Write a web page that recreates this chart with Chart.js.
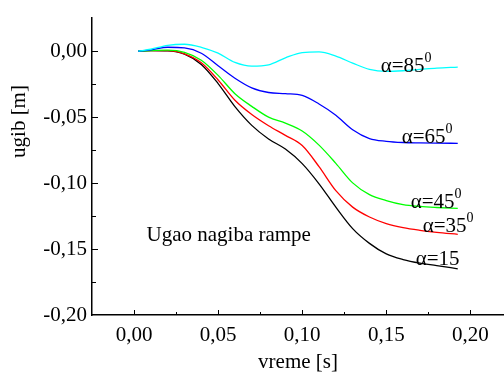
<!DOCTYPE html>
<html>
<head>
<meta charset="utf-8">
<script src="https://cdn.jsdelivr.net/npm/chart.js@4.4.1/dist/chart.umd.min.js"></script>
<style>
  body { margin: 0; background: #fff; }
  canvas { display: block; }
</style>
</head>
<body>
<canvas id="chart" width="504" height="373"></canvas>
<script>
// vreme [s]
const time = [0.0025, 0.01, 0.02, 0.03, 0.04, 0.05, 0.06, 0.07, 0.08, 0.09,
              0.10, 0.11, 0.12, 0.13, 0.14, 0.15, 0.16, 0.17, 0.18, 0.1925];

// ugib [m], one array per ramp angle
const ugib85 = [0, 0.0015, 0.0045, 0.0053, 0.0030, -0.0015, -0.0085, -0.0113, -0.0103, -0.0050,
                -0.0010, -0.0005, -0.0037, -0.0090, -0.0138, -0.0153, -0.0148, -0.0138, -0.0128, -0.0120];
const ugib65 = [0, 0.0010, 0.0030, 0.0025, -0.0015, -0.0110, -0.0205, -0.0278, -0.0313, -0.0322,
                -0.0335, -0.0400, -0.0485, -0.0595, -0.0662, -0.0683, -0.0692, -0.0695, -0.0697, -0.0698];
const ugib45 = [0, 0.0005, 0.0008, -0.0008, -0.0068, -0.0183, -0.0322, -0.0418, -0.0500, -0.0545,
                -0.0605, -0.0712, -0.0850, -0.0998, -0.1087, -0.1132, -0.1163, -0.1177, -0.1185, -0.1192];
const ugib35 = [0, 0.0005, 0.0005, -0.0020, -0.0088, -0.0218, -0.0372, -0.0480, -0.0565, -0.0638,
                -0.0715, -0.0875, -0.1057, -0.1182, -0.1257, -0.1307, -0.1338, -0.1358, -0.1373, -0.1388];
const ugib15 = [0, 0.0005, 0.0003, -0.0022, -0.0100, -0.0245, -0.0420, -0.0562, -0.0665, -0.0742,
                -0.0852, -0.1005, -0.1182, -0.1345, -0.1457, -0.1537, -0.1580, -0.1607, -0.1625, -0.1650];

const xTicks = [0, 0.05, 0.10, 0.15, 0.20];
const yTicks = [-0.20, -0.15, -0.10, -0.05, 0];

const serif = '"Liberation Serif", "Times New Roman", serif';
Chart.defaults.color = '#000';
Chart.defaults.font.family = serif;
Chart.defaults.font.size = 21;

function series(values, color) {
  return {
    data: time.map((t, i) => ({ x: t, y: values[i] })),
    borderColor: color,
    borderWidth: 1.3,
    pointRadius: 0,
    fill: false,
    cubicInterpolationMode: 'monotone'
  };
}

const comma = v => v.toFixed(2).replace('.', ',');

// inward ticks, curve labels and the y title
const extras = {
  id: 'extras',
  afterDraw(chart) {
    const { ctx, scales: { x, y } } = chart;
    ctx.save();
    ctx.strokeStyle = '#000';
    ctx.lineWidth = 1;
    ctx.beginPath();
    for (let k = 0; k <= 8; k++) {
      const px = Math.round(x.getPixelForValue(k * 0.025)) + 0.5;
      const len = k % 2 === 0 ? 5 : 3;
      ctx.moveTo(px, x.top);
      ctx.lineTo(px, x.top - len);
    }
    for (let k = 0; k < 8; k++) {
      const py = Math.round(y.getPixelForValue(-k * 0.025)) + 0.5;
      const len = k % 2 === 0 ? 6 : 4;
      ctx.moveTo(y.right, py);
      ctx.lineTo(y.right + len, py);
    }
    ctx.stroke();

    ctx.fillStyle = '#000';
    ctx.textBaseline = 'alphabetic';
    const put = (text, sup, tx, ty) => {
      const px = x.getPixelForValue(tx), py = y.getPixelForValue(ty);
      ctx.font = '21px ' + serif;
      ctx.fillText(text, px, py);
      if (sup) {
        const w = ctx.measureText(text).width;
        ctx.font = '14px ' + serif;
        ctx.fillText(sup, px + w, py - 10);
      }
    };
    put('α=85', '0', 0.1467, -0.0158);
    put('α=65', '0', 0.1592, -0.0695);
    put('α=45', '0', 0.1645, -0.1188);
    put('α=35', '0', 0.1717, -0.1372);
    put('α=15', '', 0.1675, -0.1624);
    put('Ugao nagiba rampe', '', 0.0074, -0.1441);

    ctx.font = '21px ' + serif;
    ctx.textAlign = 'center';
    ctx.translate(25, 121.5);
    ctx.rotate(-Math.PI / 2);
    ctx.fillText('ugib [m]', 0, 0);
    ctx.restore();
  }
};

new Chart(document.getElementById('chart'), {
  type: 'line',
  data: {
    datasets: [
      series(ugib85, '#00ffff'),
      series(ugib65, '#0000ff'),
      series(ugib45, '#00ff00'),
      series(ugib35, '#ff0000'),
      series(ugib15, '#000000')
    ]
  },
  options: {
    responsive: false,
    animation: false,
    layout: { padding: { top: 15, right: 0, left: 0, bottom: 0 } },
    plugins: { legend: { display: false }, tooltip: { enabled: false } },
    scales: {
      x: {
        type: 'linear',
        min: -0.025,
        max: 0.22,
        afterFit(scale) { scale.height = 58; },
        afterBuildTicks(scale) { scale.ticks = xTicks.map(v => ({ value: v })); },
        grid: { drawOnChartArea: false, drawTicks: false },
        border: { color: '#000', width: 1.5 },
        ticks: { padding: 8, maxRotation: 0, callback: v => comma(v) },
        title: { display: true, text: 'vreme [s]', font: { size: 21, lineHeight: 1 }, padding: 0 }
      },
      y: {
        type: 'linear',
        min: -0.2,
        max: 0.0255,
        afterFit(scale) { scale.width = 92; },
        afterBuildTicks(scale) { scale.ticks = yTicks.map(v => ({ value: v })); },
        grid: { drawOnChartArea: false, drawTicks: false },
        border: { color: '#000', width: 1.5 },
        ticks: { padding: 5, callback: v => comma(v) }
      }
    }
  },
  plugins: [extras]
});
</script>
</body>
</html>
